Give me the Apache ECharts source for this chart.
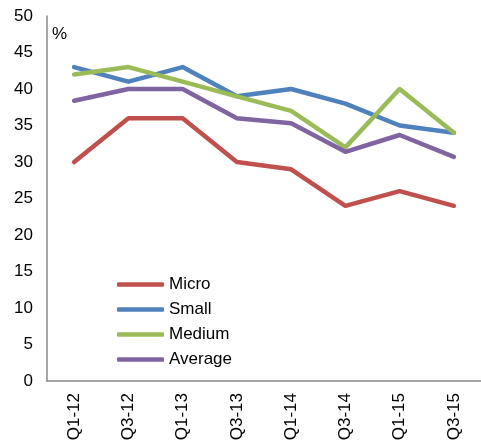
<!DOCTYPE html>
<html>
<head>
<meta charset="utf-8">
<script src="https://cdn.jsdelivr.net/npm/echarts@6/dist/echarts.min.js"></script>
<style>
html,body{margin:0;padding:0;background:#fff;}
#c{width:481px;height:446px;}
</style>
</head>
<body>
<div id="c"></div>
<script>
var categories = ['Q1-12','Q3-12','Q1-13','Q3-13','Q1-14','Q3-14','Q1-15','Q3-15'];
var micro   = [30, 36, 36, 30, 29, 24, 26, 24];
var small   = [43, 41, 43, 39, 40, 38, 35, 34];
var medium  = [42, 43, 41, 39, 37, 32, 40, 34];
var average = [38.4, 40, 40, 36, 35.3, 31.4, 33.7, 30.7];
var yTicks = [0, 5, 10, 15, 20, 25, 30, 35, 40, 45, 50];

var font = 'Liberation Sans, Arial, sans-serif';
var chart = echarts.init(document.getElementById('c'), null, {renderer: 'canvas'});
function s(name, data, color) {
  return {
    name: name, type: 'line', data: data, symbol: 'none',
    lineStyle: {color: color, width: 4.5, cap: 'round', join: 'round'},
    itemStyle: {color: color}
  };
}
chart.setOption({
  animation: false,
  grid: {left: 47, right: -6, top: 16, bottom: 65, containLabel: false},
  legend: {
    orient: 'vertical', left: 117, top: 276, itemGap: 8, padding: 0,
    itemWidth: 47, itemHeight: 4.5, icon: 'roundRect',
    textStyle: {fontFamily: font, fontSize: 17, color: '#000'},
    data: ['Micro','Small','Medium','Average']
  },
  graphic: [{type: 'text', left: 52, top: 26, style: {text: '%', font: '17px ' + font, fill: '#000'}}],
  xAxis: {
    type: 'category', data: categories, boundaryGap: true,
    axisLine: {lineStyle: {color: '#898989', width: 1.5}},
    axisTick: {show: false},
    axisLabel: {rotate: 90, margin: 12, fontFamily: font, fontSize: 17, color: '#000', interval: 0}
  },
  yAxis: {
    type: 'value', min: yTicks[0], max: yTicks[yTicks.length-1], interval: 5,
    axisLine: {show: true, lineStyle: {color: '#898989', width: 1.5}},
    axisTick: {show: false},
    splitLine: {show: false},
    axisLabel: {margin: 14, fontFamily: font, fontSize: 17, color: '#000'}
  },
  series: [
    s('Micro', micro, '#C0504D'),
    s('Small', small, '#4F81BD'),
    s('Medium', medium, '#9BBB59'),
    s('Average', average, '#8064A2')
  ]
});
</script>
</body>
</html>
